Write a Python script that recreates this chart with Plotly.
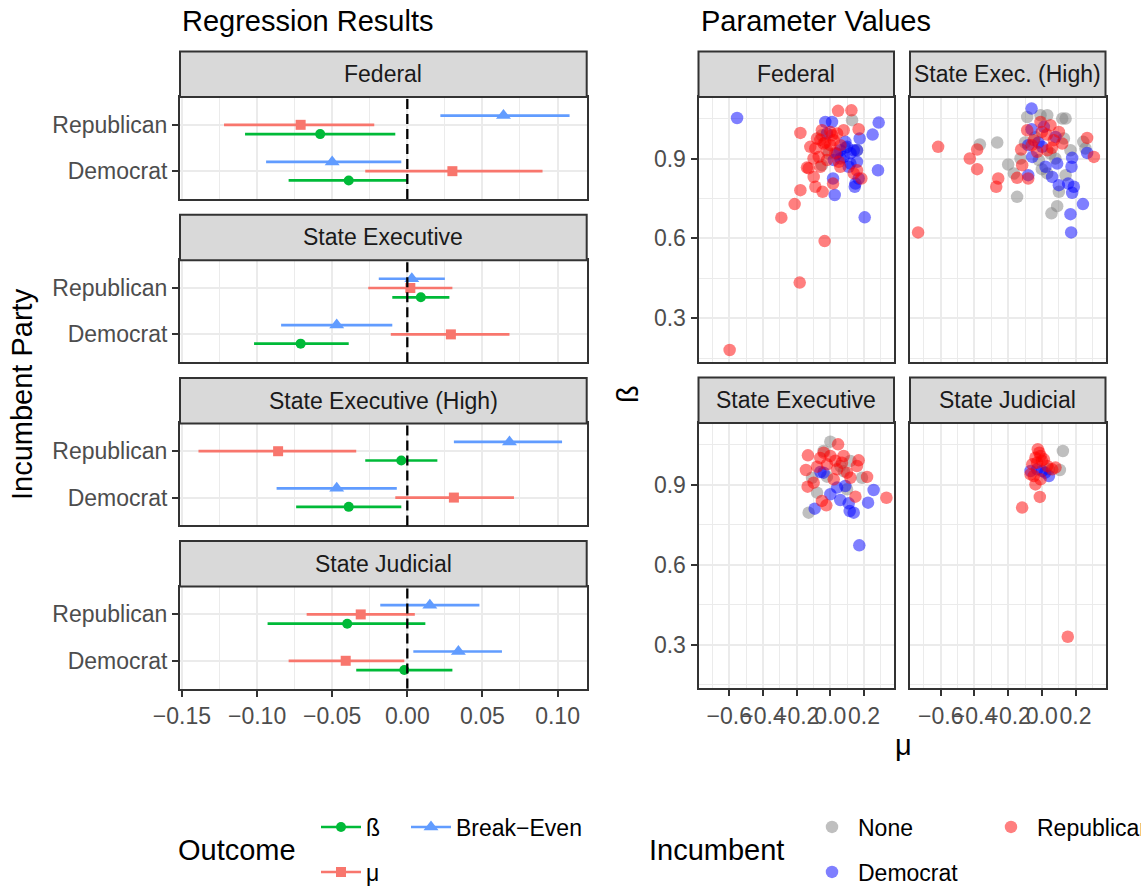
import plotly.graph_objects as go

# ---------------- data ----------------
facets_left = ["Federal", "State Executive", "State Executive (High)", "State Judicial"]
party_labels = ["Democrat", "Republican"]
outcome_names = ["Break\u2212Even", "\u03bc", "\u00df"]
outcome_colors = ["#619CFF", "#F8766D", "#00BA38"]

# values per facet: [Republican, Democrat]
be_est = [[0.064, -0.050], [0.003, -0.047], [0.068, -0.047], [0.015, 0.034]]
be_lo = [[0.022, -0.094], [-0.019, -0.084], [0.031, -0.087], [-0.018, 0.004]]
be_hi = [[0.108, -0.004], [0.025, -0.010], [0.103, -0.007], [0.048, 0.063]]

mu_est = [[-0.071, 0.030], [0.002, 0.029], [-0.086, 0.031], [-0.031, -0.041]]
mu_lo = [[-0.122, -0.028], [-0.026, -0.011], [-0.139, -0.008], [-0.067, -0.079]]
mu_hi = [[-0.022, 0.090], [0.030, 0.068], [-0.034, 0.071], [0.005, -0.002]]

beta_est = [[-0.058, -0.039], [0.009, -0.071], [-0.004, -0.039], [-0.040, -0.002]]
beta_lo = [[-0.108, -0.079], [-0.010, -0.102], [-0.028, -0.074], [-0.093, -0.034]]
beta_hi = [[-0.008, 0.000], [0.028, -0.039], [0.020, -0.004], [0.012, 0.030]]

# scatter: (mu, beta) pairs
fed_none = [(-0.05, 0.875), (-0.01, 0.919), (0.158, 0.931), (0.089, 0.94), (-0.05, 0.9875), (0.129, 1.044)]
fed_dem = [(-0.554, 1.052), (0.204, 0.679), (0.283, 0.856), (0.287, 1.035), (0.251, 0.99), (0.174, 0.975),
           (0.026, 0.763), (0.016, 0.825), (0.145, 0.794), (0.149, 0.806), (0.168, 0.825), (-0.03, 1.0375),
           (0.01, 1.0375), (-0.02, 0.994), (0.089, 0.9625), (0.04, 0.919), (0.079, 0.906), (0.119, 0.881),
           (0.158, 0.8875), (0.139, 0.931), (0.099, 0.944), (0.02, 0.894), (0.158, 0.931), (0.059, 0.931),
           (0.109, 0.869), (0.06, 0.9), (0.12, 0.92)]
fed_rep = [(-0.598, 0.181), (-0.182, 0.434), (-0.034, 0.59), (-0.291, 0.678), (-0.212, 0.729), (-0.178, 0.781),
           (-0.178, 0.996), (0.046, 1.079), (0.125, 1.081), (0.168, 1.01), (0.016, 0.806), (-0.089, 0.794),
           (-0.046, 0.775), (-0.099, 0.831), (0.184, 0.825), (-0.139, 0.866), (-0.119, 0.944), (-0.079, 0.975),
           (-0.05, 1.006), (0.0, 1.0), (0.04, 0.994), (0.079, 1.006), (-0.069, 0.906), (-0.059, 0.869),
           (-0.02, 0.931), (0.02, 0.969), (0.05, 0.888), (-0.089, 0.938), (-0.04, 0.956), (0.059, 0.869),
           (0.139, 0.844), (0.158, 0.856), (-0.129, 0.863), (0.01, 0.9875), (-0.02, 0.894), (-0.03, 0.96),
           (0.06, 0.95), (-0.1, 0.9), (0.0, 0.95), (0.03, 0.92), (-0.06, 0.97)]

seh_none = [(-0.368, 0.9525), (-0.265, 0.96), (-0.2, 0.8775), (-0.166, 0.844), (-0.147, 0.756), (-0.127, 0.9),
            (-0.087, 1.056), (-0.008, 1.0625), (0.032, 1.0625), (0.121, 1.05), (0.141, 1.05), (0.131, 0.975),
            (-0.018, 0.894), (0.051, 0.919), (0.246, 0.9625), (0.259, 0.9375), (0.101, 0.775), (0.091, 0.721),
            (0.057, 0.694), (0.141, 0.8375), (0.032, 0.844), (0.17, 0.931), (-0.04, 0.98), (0.08, 0.9),
            (0.0, 0.86), (-0.1, 0.96)]
seh_dem = [(-0.081, 0.8375), (-0.061, 1.0875), (-0.061, 1.01), (0.012, 1.019), (0.081, 0.981), (-0.081, 0.95),
           (0.002, 0.944), (-0.057, 0.906), (0.269, 0.921), (0.18, 0.9025), (0.176, 0.869), (0.091, 0.881),
           (0.022, 0.869), (0.061, 0.831), (0.101, 0.8), (0.156, 0.806), (0.19, 0.794), (0.18, 0.771),
           (0.244, 0.729), (0.17, 0.691), (0.174, 0.6225), (-0.02, 0.96)]
seh_rep = [(-0.735, 0.6225), (-0.616, 0.944), (-0.428, 0.9), (-0.384, 0.934), (-0.384, 0.86), (-0.259, 0.825),
           (-0.271, 0.794), (-0.147, 0.8275), (-0.081, 0.825), (-0.117, 0.875), (-0.123, 0.934), (-0.008, 1.0375),
           (0.051, 1.025), (-0.087, 1.006), (0.101, 1.0), (0.071, 0.969), (-0.048, 0.969), (0.032, 0.931),
           (-0.028, 0.925), (0.121, 0.956), (0.269, 0.9775), (0.309, 0.906), (0.0, 1.0), (0.03, 0.99),
           (-0.06, 0.95), (0.06, 0.94)]

se_none = [(-0.129, 0.795), (-0.079, 0.87), (0.0, 1.061), (0.119, 0.989), (0.188, 0.926), (0.059, 0.97),
           (0.099, 0.8825), (-0.109, 0.926), (-0.04, 1.026), (0.08, 0.95), (-0.02, 0.93)]
se_dem = [(0.172, 0.6725), (0.257, 0.88), (0.224, 0.8325), (0.139, 0.795), (0.115, 0.801), (0.109, 0.83),
          (-0.093, 0.81), (0.059, 0.8425), (0.0, 0.864), (-0.059, 0.9475), (-0.04, 0.945), (0.04, 0.889),
          (0.089, 0.895)]
se_rep = [(0.333, 0.851), (-0.024, 0.8225), (-0.05, 0.839), (0.149, 0.855), (-0.135, 0.8925), (-0.145, 0.955),
          (-0.133, 1.01), (0.046, 1.051), (-0.04, 1.02), (0.0, 1.0075), (0.079, 1.0075), (0.168, 0.991),
          (0.158, 0.97), (0.218, 0.929), (-0.079, 0.9675), (0.04, 0.9575), (0.099, 0.945), (0.119, 0.926),
          (0.02, 0.92), (-0.099, 0.9075), (-0.02, 0.976), (0.069, 0.9825), (-0.06, 1.0), (0.03, 0.99)]

sj_none = [(0.125, 1.026), (0.107, 0.955), (0.042, 0.9575)]
sj_dem = [(-0.067, 0.951), (0.002, 0.951), (0.042, 0.9325), (-0.028, 0.9575), (0.02, 0.945)]
sj_rep = [(0.154, 0.33), (-0.117, 0.814), (-0.012, 0.854), (-0.038, 0.901), (-0.008, 0.92), (0.081, 0.964),
          (-0.024, 1.0325), (-0.008, 1.0075), (0.012, 0.995), (-0.038, 1.001), (-0.057, 0.976), (-0.067, 0.939),
          (0.032, 0.97), (0.061, 0.9575), (-0.028, 0.9825), (-0.048, 0.9325), (-0.015, 1.02), (0.0, 0.99)]

facets_right = ["Federal", "State Exec. (High)", "State Executive", "State Judicial"]
right_data = [
    (fed_none, fed_dem, fed_rep),
    (seh_none, seh_dem, seh_rep),
    (se_none, se_dem, se_rep),
    (sj_none, sj_dem, sj_rep),
]
incumbent_names = ["None", "Democrat", "Republican"]
incumbent_colors = ["rgba(127,127,127,0.5)", "rgba(0,0,255,0.5)", "rgba(255,0,0,0.5)"]

# ---------------- layout helpers ----------------
FONT = "Liberation Sans, Arial, sans-serif"
W, H = 1141, 886
GRID = "#EBEBEB"
BORDER = "#333333"
TICKC = "#4D4D4D"


def fx(p):
    return p / W


def fy(p):
    return 1 - p / H


def xr(n):
    return "x" if n == 1 else f"x{n}"


def yr(n):
    return "y" if n == 1 else f"y{n}"


def xkey(n):
    return "xaxis" if n == 1 else f"xaxis{n}"


def ykey(n):
    return "yaxis" if n == 1 else f"yaxis{n}"


fig = go.Figure()
layout = dict(width=W, height=H, margin=dict(l=0, r=0, t=0, b=0, pad=0, autoexpand=False),
              plot_bgcolor="white", paper_bgcolor="white",
              font=dict(family=FONT, size=23, color=TICKC), hovermode=False)
shapes, annotations = [], []

# ---------------- left: regression results ----------------
LX0, LX1 = 180, 586.7
STRIP_H, PLOT_H, STEP, TOP0 = 45.5, 102, 163.2, 51.5
offsets = [0.2, 0.0, -0.2]
series = [(be_est, be_lo, be_hi), (mu_est, mu_lo, mu_hi), (beta_est, beta_lo, beta_hi)]
symbols = ["triangle-up", "square", "circle"]
sizes = [13, 10, 10]
legend_ids = ["legend2", "legend3", "legend"]

for i, name in enumerate(facets_left):
    st = TOP0 + i * STEP
    pt = st + STRIP_H
    pb = pt + PLOT_H
    n = i + 1
    bottom = i == len(facets_left) - 1
    layout[xkey(n)] = dict(
        domain=[fx(LX0), fx(LX1)], range=[-0.1513, 0.1194], anchor=yr(n),
        showgrid=True, gridcolor=GRID, gridwidth=2, dtick=0.05, tick0=0, tickformat=".2f",
        minor=dict(dtick=0.025, tick0=0, showgrid=True, gridcolor=GRID, gridwidth=1.1),
        showline=True, linecolor=BORDER, linewidth=2, mirror=True, zeroline=False,
        ticks="outside" if bottom else "", ticklen=6, tickwidth=1.8, tickcolor=BORDER,
        showticklabels=bottom, tickangle=0, tickfont=dict(size=23, color=TICKC, family=FONT))
    layout[ykey(n)] = dict(
        domain=[fy(pb), fy(pt)], range=[0.4, 2.6], anchor=xr(n),
        tickvals=[1, 2], ticktext=party_labels,
        showgrid=True, gridcolor=GRID, gridwidth=2, zeroline=False,
        showline=True, linecolor=BORDER, linewidth=2, mirror=True,
        ticks="outside", ticklen=6, tickwidth=1.8, tickcolor=BORDER,
        tickfont=dict(size=23, color=TICKC, family=FONT))
    shapes.append(dict(type="rect", xref="paper", yref="paper", x0=fx(LX0), x1=fx(LX1),
                       y0=fy(pt), y1=fy(st), fillcolor="#D9D9D9", line=dict(color=BORDER, width=2), layer="above"))
    annotations.append(dict(text=name, xref="paper", yref="paper", x=fx((LX0 + LX1) / 2), y=fy(st + STRIP_H / 2),
                            showarrow=False, xanchor="center", yanchor="middle",
                            font=dict(size=23, color="#1A1A1A", family=FONT)))
    for k, (est, lo, hi) in enumerate(series):
        e = est[i]
        xs = [e[0], None, e[1]]
        ys = [2 + offsets[k], None, 1 + offsets[k]]
        plus = [hi[i][0] - e[0], None, hi[i][1] - e[1]]
        minus = [e[0] - lo[i][0], None, e[1] - lo[i][1]]
        fig.add_trace(go.Scatter(
            x=xs, y=ys, xaxis=xr(n), yaxis=yr(n), mode="lines+markers",
            name=outcome_names[k], legend=legend_ids[k], showlegend=(i == 0),
            line=dict(color=outcome_colors[k], width=2.6),
            marker=dict(symbol=symbols[k], size=sizes[k], color=outcome_colors[k], line=dict(width=0)),
            error_x=dict(type="data", array=plus, arrayminus=minus, width=0,
                         thickness=2.7, color=outcome_colors[k]),
            cliponaxis=False))
    shapes.append(dict(type="line", xref=xr(n), yref=f"{yr(n)} domain", x0=0, x1=0, y0=0, y1=1,
                       line=dict(color="black", width=2.3, dash="10px,5px")))

# ---------------- right: parameter values ----------------
cols = [(698.5, 894), (910, 1105.5)]
rows = [(51.5, 97, 361.7), (377.5, 423, 688.3)]
for j, name in enumerate(facets_right):
    r, c = divmod(j, 2)
    st, pt, pb = rows[r]
    cx0, cx1 = cols[c]
    n = 5 + j
    layout[xkey(n)] = dict(
        domain=[fx(cx0), fx(cx1)], range=[-0.783, 0.378], anchor=yr(n),
        showgrid=True, gridcolor=GRID, gridwidth=2, dtick=0.2, tick0=0, tickformat=".1f",
        minor=dict(dtick=0.1, tick0=0, showgrid=True, gridcolor=GRID, gridwidth=1.1),
        showline=True, linecolor=BORDER, linewidth=2, mirror=True, zeroline=False,
        ticks="outside" if r == 1 else "", ticklen=6, tickwidth=1.8, tickcolor=BORDER,
        showticklabels=(r == 1), tickangle=0, tickfont=dict(size=23, color=TICKC, family=FONT))
    layout[ykey(n)] = dict(
        domain=[fy(pb), fy(pt)], range=[0.137, 1.131], anchor=xr(n),
        showgrid=True, gridcolor=GRID, gridwidth=2, dtick=0.3, tick0=0, tickformat=".1f",
        minor=dict(dtick=0.15, tick0=0, showgrid=True, gridcolor=GRID, gridwidth=1.1),
        showline=True, linecolor=BORDER, linewidth=2, mirror=True, zeroline=False,
        ticks="outside" if c == 0 else "", ticklen=6, tickwidth=1.8, tickcolor=BORDER,
        showticklabels=(c == 0), tickfont=dict(size=23, color=TICKC, family=FONT))
    shapes.append(dict(type="rect", xref="paper", yref="paper", x0=fx(cx0), x1=fx(cx1),
                       y0=fy(pt), y1=fy(st), fillcolor="#D9D9D9", line=dict(color=BORDER, width=2), layer="above"))
    annotations.append(dict(text=name, xref="paper", yref="paper", x=fx((cx0 + cx1) / 2), y=fy((st + pt) / 2),
                            showarrow=False, xanchor="center", yanchor="middle",
                            font=dict(size=23, color="#1A1A1A", family=FONT)))
    for k, pts in enumerate(right_data[j]):
        fig.add_trace(go.Scatter(
            x=[p[0] for p in pts], y=[p[1] for p in pts], xaxis=xr(n), yaxis=yr(n),
            mode="markers", name=incumbent_names[k], showlegend=(j == 0),
            legend=["legend4", "legend6", "legend5"][k],
            marker=dict(size=12.5, color=incumbent_colors[k], line=dict(width=0))))


# ---------------- titles ----------------
def label(text, x, y, size=29, color="black", angle=0, xanchor="center"):
    annotations.append(dict(text=text, xref="paper", yref="paper", x=fx(x), y=fy(y), showarrow=False,
                            xanchor=xanchor, yanchor="middle", textangle=angle,
                            font=dict(size=size, color=color, family=FONT)))


label("Regression Results", 180, 21, xanchor="left")
label("Parameter Values", 699, 21, xanchor="left")
label("Incumbent Party", 22, 394, angle=-90)
label("\u00df", 628, 394, angle=-90)
label("\u03bc", 903, 745)
label("Outcome", 176, 850, xanchor="left")
label("Incumbent", 647, 850, xanchor="left")


# ---------------- legends ----------------
def leg(x, y, iw=30):
    return dict(orientation="h", x=fx(x), y=fy(y), xanchor="left", yanchor="middle",
                bgcolor="rgba(0,0,0,0)", borderwidth=0, itemwidth=iw,
                font=dict(size=23, color="black", family=FONT), itemclick=False, itemdoubleclick=False)


layout["legend"] = leg(316, 827, 40)
layout["legend2"] = leg(406, 827, 40)
layout["legend3"] = leg(316, 872, 40)
layout["legend4"] = leg(806, 827, 42)
layout["legend5"] = leg(985, 827, 42)
layout["legend6"] = leg(806, 872, 42)
layout["showlegend"] = True
layout["shapes"] = shapes
layout["annotations"] = annotations
fig.update_layout(**layout)
fig.write_html("out.html")
